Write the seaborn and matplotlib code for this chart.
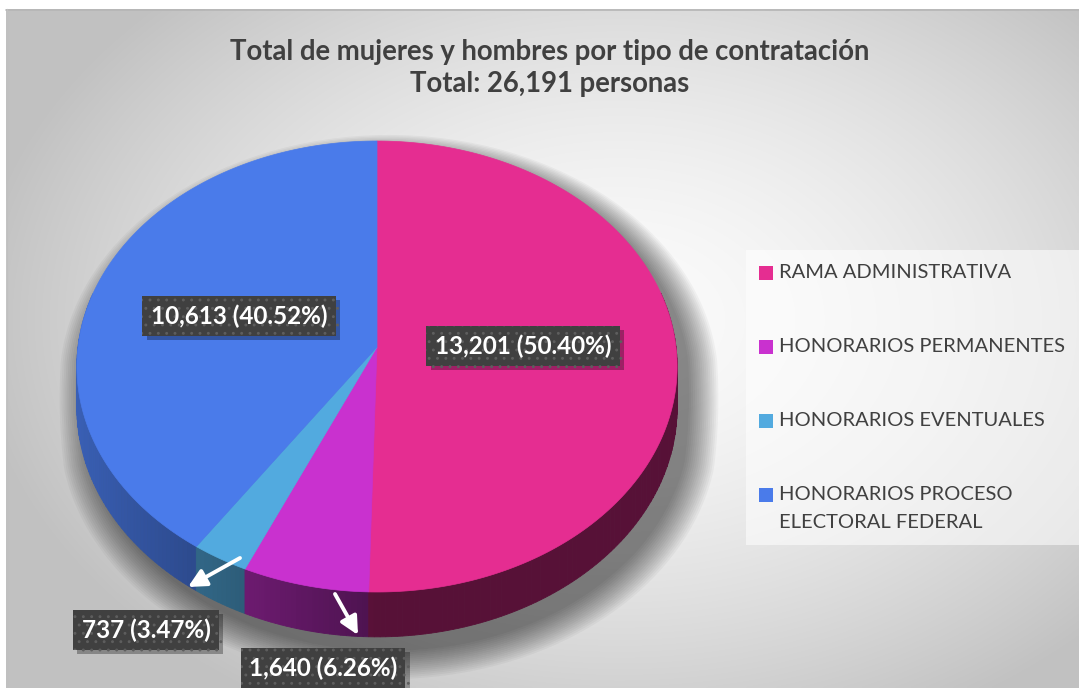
import numpy as np
import matplotlib
matplotlib.use("Agg")
import matplotlib.pyplot as plt
import seaborn as sns
from matplotlib.patches import Rectangle
import matplotlib.patheffects as pe

# ---------------- data ----------------
categories = ["RAMA ADMINISTRATIVA", "HONORARIOS PERMANENTES",
              "HONORARIOS EVENTUALES", "HONORARIOS PROCESO\nELECTORAL FEDERAL"]
values = [13201, 1640, 737, 10613]
percent_labels = ["50.40%", "6.26%", "3.47%", "40.52%"]
title_lines = ["Total de mujeres y hombres por tipo de contratación",
               "Total: 26,191 personas"]

# ---------------- style ----------------
sns.set_theme(style="white")
plt.rcParams["font.family"] = ["Lato", "DejaVu Sans"]
plt.rcParams["hatch.linewidth"] = 0.9
palette = sns.color_palette(["#E52D91", "#C931CF", "#52AADF", "#4A7BEA"])

W, H = 1079, 688
fig = plt.figure(figsize=(W / 100, H / 100), dpi=100)
fig.patch.set_facecolor("white")
ax = fig.add_axes([0, 0, 1, 1])
ax.set_xlim(0, W)
ax.set_ylim(H, 0)
ax.axis("off")

# background radial gradient
bx0, by0 = 6, 9
xs = np.linspace(bx0, W, 400)
ys = np.linspace(by0, H, 260)
XX, YY = np.meshgrid(xs, ys)
rr = np.sqrt(((XX - 620) / 600) ** 2 + ((YY - 320) / 420) ** 2)
bright = 0.985 - 0.2 * np.clip(rr, 0, 1.25) ** 1.6
bright = np.clip(bright, 0.76, 1)
ax.imshow(np.dstack([bright] * 3), extent=(bx0, W, H, by0), origin="upper",
          aspect="auto", zorder=0, interpolation="bilinear")
ax.plot([bx0, W], [by0 + 0.5, by0 + 0.5], color="#b5b5b5", lw=1.2, zorder=0.5)
ax.plot([bx0 + 0.5, bx0 + 0.5], [by0, H], color="#c0c0c0", lw=1.0, zorder=0.5)

# ---------------- 3D pie geometry ----------------
CX, CY, A, B, P = 377.0, 347.0, 299.0, 223.8, 0.0865
DEPTH = 41.0


def proj(theta_deg, r=1.0, drop=0.0):
    t = np.radians(theta_deg)
    u = r * np.sin(t)
    v = r * np.cos(t)
    f = 1.0 / (1.0 + P * v)
    return CX + A * u * f, CY - B * v * f + drop * f


total = float(np.sum(values))
bounds = np.concatenate([[0.0], np.cumsum(values) / total * 360.0])

# soft shadow
th = np.linspace(0, 360, 361)
vv = np.cos(np.radians(th))
dr = DEPTH * np.clip(-vv * 4, 0, 1)
sx, sy = proj(th, 1.0, dr)
for k in range(16):
    s = 1.0 + 0.0065 * k
    px = (sx - CX) * s + CX + 12
    py = (sy - CY) * s + CY + 14
    ax.fill(px, py, color="black", alpha=0.035, lw=0, zorder=1)


def side_color(rgb, theta):
    th_ = theta % 360
    k = 0.38 + 0.4 * max(0.0, np.sin(np.radians(th_ - 180)))
    return tuple(np.clip(np.array(rgb) * k, 0, 1))


# side walls (front segments), back to front
segs = []
for i, col in enumerate(palette):
    t0, t1 = bounds[i], bounds[i + 1]
    n = max(2, int(np.ceil((t1 - t0) / 1.0)))
    edges = np.linspace(t0, t1, n + 1)
    for a0, a1 in zip(edges[:-1], edges[1:]):
        mid = 0.5 * (a0 + a1)
        if np.cos(np.radians(mid)) > 0.25:
            continue
        segs.append((np.cos(np.radians(mid)), a0, a1, col))
segs.sort(key=lambda s: -s[0])
for _, a0, a1, col in segs:
    tt = np.linspace(a0, a1, 4)
    x1, y1 = proj(tt, 1.0, 0.0)
    x2, y2 = proj(tt[::-1], 1.0, DEPTH)
    c = side_color(col, 0.5 * (a0 + a1))
    ax.fill(np.concatenate([x1, x2]), np.concatenate([y1, y2]),
            color=c, lw=0.6, ec=c, zorder=2)

# top surface
for i, col in enumerate(palette):
    t0, t1 = bounds[i], bounds[i + 1]
    tt = np.linspace(t0, t1, max(3, int((t1 - t0) * 2)))
    x, y = proj(tt)
    ax.fill(np.concatenate([[CX], x]), np.concatenate([[CY], y]),
            color=col, lw=0.5, ec=col, zorder=3)

# ---------------- title ----------------
ax.text(550, 52, title_lines[0], ha="center", va="center", fontsize=19.8,
        fontweight="bold", color="#404040", zorder=10)
ax.text(550, 84, title_lines[1], ha="center", va="center", fontsize=19.8,
        fontweight="bold", color="#404040", zorder=10)

# ---------------- data labels ----------------
label_pos = [(523, 346), (323, 668), (146, 630), (239, 316)]
for i, (lx, ly) in enumerate(label_pos):
    txt = f"{values[i]:,} ({percent_labels[i]})"
    t = ax.text(lx, ly, txt, ha="center", va="center", fontsize=17.5,
                fontweight="bold", color="white", zorder=12,
                bbox=dict(boxstyle="square,pad=0.34", facecolor="#404040",
                          edgecolor="#5e5e5e", linewidth=0, hatch=".."))
    t.get_bbox_patch().set_path_effects(
        [pe.SimplePatchShadow(offset=(3, -3), shadow_rgbFace="black", alpha=0.3),
         pe.Normal()])

# arrows
arrow_style = dict(arrowstyle="-|>,head_length=0.9,head_width=0.45",
                   color="white", lw=2.8, shrinkA=0, shrinkB=0)
ax.annotate("", xy=(188, 587), xytext=(240, 558), arrowprops=arrow_style, zorder=11)
ax.annotate("", xy=(358, 635), xytext=(335, 594), arrowprops=arrow_style, zorder=11)

# ---------------- legend ----------------
ax.add_patch(Rectangle((746, 250), W - 746, 295, facecolor="white", alpha=0.55,
                       edgecolor="none", zorder=5))
for i, (cat, col) in enumerate(zip(categories, palette)):
    yc = 273 + i * 74
    ax.add_patch(Rectangle((759, yc - 7), 14, 14, facecolor=col, edgecolor="none",
                           zorder=6))
    for j, line in enumerate(cat.split("\n")):
        ax.text(779, yc + j * 28, line, ha="left", va="center", fontsize=14.5,
                color="#404040", zorder=6)

fig.savefig("out.png", dpi=100, facecolor=fig.get_facecolor())
